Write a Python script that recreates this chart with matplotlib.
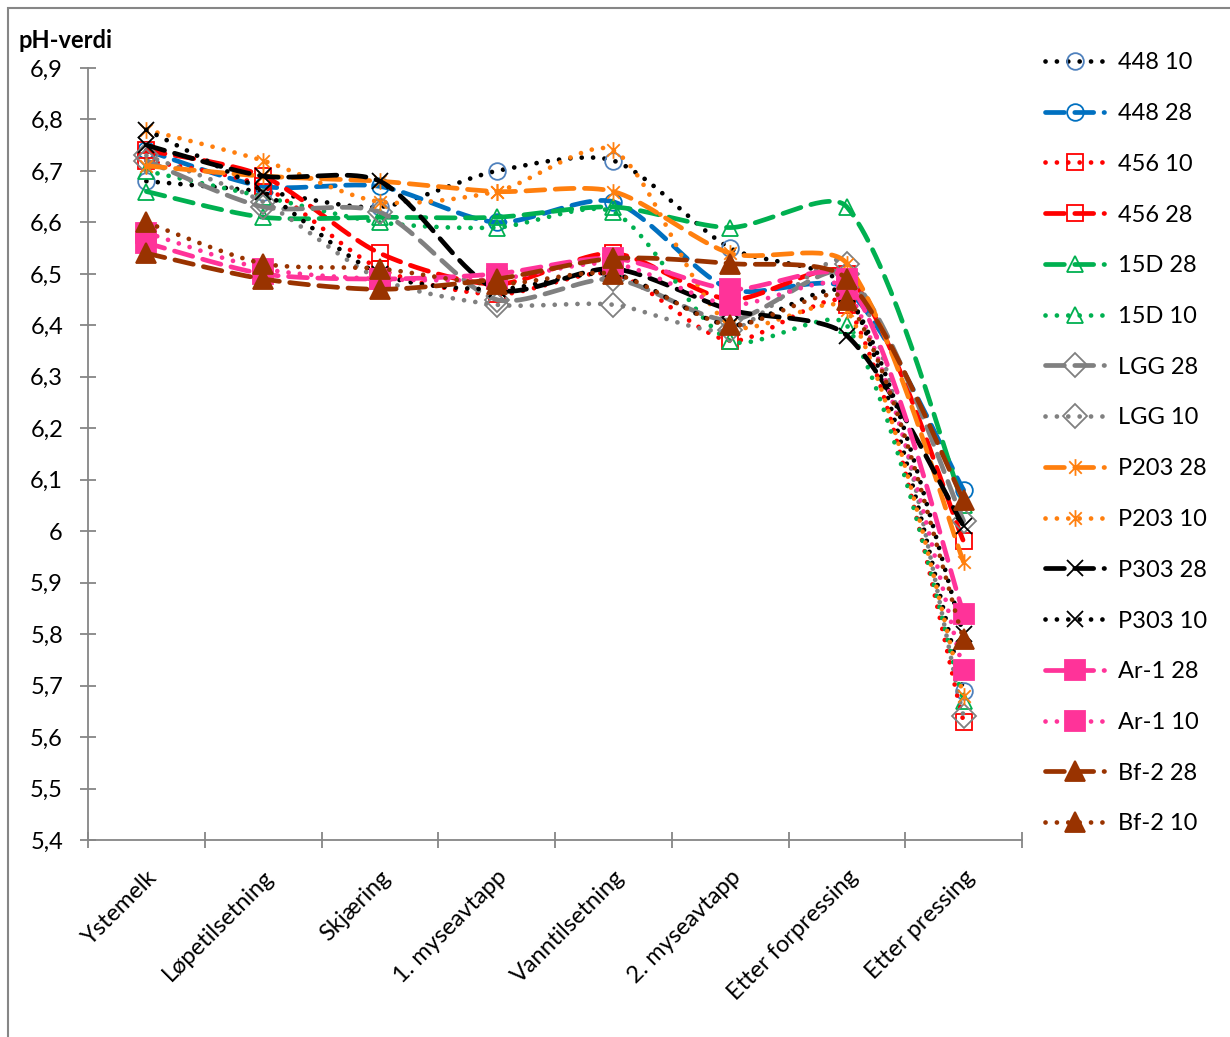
import numpy as np
import matplotlib
matplotlib.use("Agg")
import matplotlib.pyplot as plt
from matplotlib.path import Path
from matplotlib.patches import Rectangle
from matplotlib.ticker import FixedLocator, FuncFormatter

kategorier = ["Ystemelk", "Løpetilsetning", "Skjæring", "1. myseavtapp",
              "Vanntilsetning", "2. myseavtapp", "Etter forpressing", "Etter pressing"]

ph_448_10 = [6.68, 6.66, 6.63, 6.70, 6.72, 6.55, 6.47, 5.69]
ph_448_28 = [6.74, 6.67, 6.67, 6.60, 6.64, 6.47, 6.47, 6.08]
ph_456_10 = [6.72, 6.67, 6.51, 6.46, 6.50, 6.37, 6.44, 5.63]
ph_456_28 = [6.74, 6.69, 6.54, 6.48, 6.54, 6.45, 6.50, 5.98]
ph_15d_28 = [6.66, 6.61, 6.61, 6.61, 6.63, 6.59, 6.63, 6.05]
ph_15d_10 = [6.70, 6.65, 6.60, 6.59, 6.62, 6.37, 6.40, 5.67]
ph_lgg_28 = [6.72, 6.63, 6.62, 6.45, 6.49, 6.41, 6.50, 6.02]
ph_lgg_10 = [6.73, 6.64, 6.49, 6.44, 6.44, 6.39, 6.52, 5.64]
ph_p203_28 = [6.71, 6.69, 6.68, 6.66, 6.66, 6.54, 6.52, 5.94]
ph_p203_10 = [6.78, 6.72, 6.64, 6.66, 6.74, 6.40, 6.43, 5.68]
ph_p303_28 = [6.75, 6.69, 6.68, 6.47, 6.51, 6.43, 6.38, 6.01]
ph_p303_10 = [6.78, 6.66, 6.50, 6.47, 6.50, 6.40, 6.46, 5.80]
ph_ar1_28 = [6.56, 6.50, 6.49, 6.50, 6.53, 6.47, 6.49, 5.84]
ph_ar1_10 = [6.58, 6.51, 6.49, 6.49, 6.52, 6.44, 6.47, 5.73]
ph_bf2_28 = [6.54, 6.49, 6.47, 6.49, 6.53, 6.52, 6.49, 6.06]
ph_bf2_10 = [6.60, 6.52, 6.51, 6.48, 6.50, 6.40, 6.45, 5.79]

plt.rcParams["font.family"] = ["Lato", "DejaVu Sans"]

# stjerne: loddrett strek + kryss
stjerne = Path([(0, -1), (0, 1), (-0.75, -0.75), (0.75, 0.75), (-0.75, 0.75), (0.75, -0.75)],
               [Path.MOVETO, Path.LINETO, Path.MOVETO, Path.LINETO, Path.MOVETO, Path.LINETO])

BLA = "#0070C0"
ROD = "#FF0000"
GRONN = "#00B050"
GRA = "#808080"
ORANSJE = "#FF7F0E"
ROSA = "#FF3399"
BRUN = "#993300"

PRIKK = (0, (0.01, 2.4))
STREK = (0, (4.0, 2.2))

serier = [
    ("448 10", ph_448_10, "black", "#4F81BD", "o", PRIKK, "none"),
    ("448 28", ph_448_28, BLA, BLA, "o", STREK, "none"),
    ("456 10", ph_456_10, ROD, ROD, "s", PRIKK, "none"),
    ("456 28", ph_456_28, ROD, ROD, "s", STREK, "none"),
    ("15D 28", ph_15d_28, GRONN, GRONN, "^", STREK, "none"),
    ("15D 10", ph_15d_10, GRONN, GRONN, "^", PRIKK, "none"),
    ("LGG 28", ph_lgg_28, GRA, GRA, "D", STREK, "none"),
    ("LGG 10", ph_lgg_10, GRA, GRA, "D", PRIKK, "none"),
    ("P203 28", ph_p203_28, ORANSJE, ORANSJE, stjerne, STREK, "none"),
    ("P203 10", ph_p203_10, ORANSJE, ORANSJE, stjerne, PRIKK, "none"),
    ("P303 28", ph_p303_28, "black", "black", "x", STREK, "none"),
    ("P303 10", ph_p303_10, "black", "black", "x", PRIKK, "none"),
    ("Ar-1 28", ph_ar1_28, ROSA, ROSA, "s", STREK, ROSA),
    ("Ar-1 10", ph_ar1_10, ROSA, ROSA, "s", PRIKK, ROSA),
    ("Bf-2 28", ph_bf2_28, BRUN, BRUN, "^", STREK, BRUN),
    ("Bf-2 10", ph_bf2_10, BRUN, BRUN, "^", PRIKK, BRUN),
]

# skala for glatting: piksler per kategori og per pH-enhet
SX, SY = 117.0, 514.7


def glatt(y, n=40, k=0.27):
    # Bezier-glatting med tangenter vektet etter segmentlengde
    py = np.asarray(y, dtype=float) * SY
    px = np.arange(len(py), dtype=float) * SX
    P = np.column_stack([px, py])
    m = len(P)
    d = np.linalg.norm(np.diff(P, axis=0), axis=1)
    T = np.zeros_like(P)
    for i in range(m):
        T[i] = P[min(i + 1, m - 1)] - P[max(i - 1, 0)]
    xs, ys = [], []
    t = np.linspace(0, 1, n)[:, None]
    for i in range(m - 1):
        inn = d[i - 1] if i > 0 else d[i]
        ut = d[i + 1] if i + 1 < m - 1 else d[i]
        p0, p3 = P[i], P[i + 1]
        p1 = p0 + T[i] * d[i] / (inn + d[i]) * k
        p2 = p3 - T[i + 1] * d[i] / (d[i] + ut) * k
        b = (1 - t) ** 3 * p0 + 3 * (1 - t) ** 2 * t * p1 + 3 * (1 - t) * t ** 2 * p2 + t ** 3 * p3
        xs.extend(b[:, 0] / SX)
        ys.extend(b[:, 1] / SY)
    return np.array(xs), np.array(ys)


fig = plt.figure(figsize=(12.3, 10.37), dpi=100)
ax = fig.add_axes([88 / 1230, 1 - 840 / 1037, (1022 - 88) / 1230, (840 - 68) / 1037])

x = np.arange(len(kategorier))
for navn, verdier, linjefarge, markorfarge, markor, stil, fyll in serier:
    gx, gy = glatt(verdier)
    storrelse = 14 if fyll != "none" else 12
    ax.plot(gx, gy, color=linjefarge, lw=3.4, linestyle=stil,
            dash_capstyle="round", solid_capstyle="round")
    ax.plot(x, verdier, linestyle="none", marker=markor, markersize=storrelse,
            markeredgecolor=markorfarge, markerfacecolor=fyll, markeredgewidth=1.3)
    # legendeoppføring med linje og markør samlet
    ax.plot([], [], color=linjefarge, lw=3.4, linestyle=stil, dash_capstyle="round",
            marker=markor, markersize=storrelse, markeredgecolor=markorfarge,
            markerfacecolor=fyll, markeredgewidth=1.3, label=navn)

ax.set_xlim(-0.5, len(kategorier) - 0.5)
ax.set_ylim(5.4, 6.9)
ax.yaxis.set_major_locator(FixedLocator(np.round(np.arange(5.4, 6.91, 0.1), 1)))
ax.yaxis.set_major_formatter(FuncFormatter(lambda v, p: f"{round(v, 1):g}".replace(".", ",")))
ax.xaxis.set_major_locator(FixedLocator(np.arange(-0.5, len(kategorier), 1.0)))
ax.xaxis.set_major_formatter(FuncFormatter(lambda v, p: ""))
ax.xaxis.set_minor_locator(FixedLocator(x))
ax.set_xticklabels(kategorier, minor=True, rotation=45, ha="right", rotation_mode="anchor")
ax.tick_params(axis="x", which="minor", length=0, pad=19, labelsize=17)
ax.tick_params(axis="both", which="major", direction="inout", length=12, width=1.3,
               color="#868686", labelsize=17)
ax.tick_params(axis="y", pad=12)

for s in ["top", "right"]:
    ax.spines[s].set_visible(False)
for s in ["left", "bottom"]:
    ax.spines[s].set_color("#868686")
    ax.spines[s].set_linewidth(1.3)

fig.text(18 / 1230, 1 - 40 / 1037, "pH-verdi", fontsize=17, fontweight="bold", va="center")

fig.legend(loc="upper left", bbox_to_anchor=(1024 / 1230, 1 - 31 / 1037), frameon=False,
           fontsize=17, handlelength=2.5, labelspacing=1.26, handletextpad=0.6)

fig.patches.append(Rectangle((8 / 1230, -0.1), 1.2, 1.1 - 8 / 1037, transform=fig.transFigure,
                             fill=False, edgecolor="#868686", lw=1.5))

fig.savefig("out.png", dpi=100, facecolor="white")
